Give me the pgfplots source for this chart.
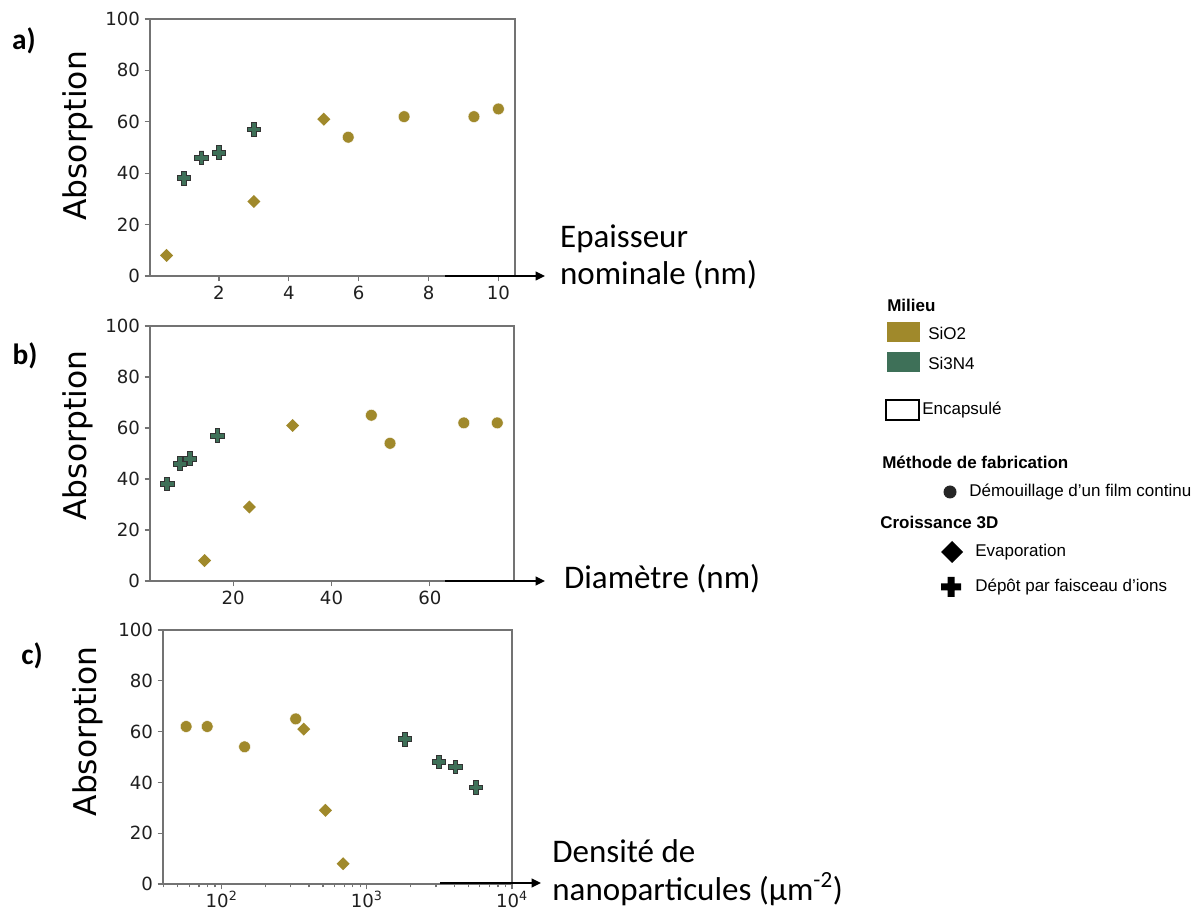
\documentclass[border=0pt]{standalone}
\usepackage{fontspec}
\setmainfont{DejaVu Sans}
\newfontfamily\carlito{Carlito}
\newfontfamily\arial{Liberation Sans}
\usepackage{pgfplots}
\pgfplotsset{compat=1.18}
\usetikzlibrary{arrows.meta}

\definecolor{sio}{RGB}{160,137,43}
\definecolor{sinf}{RGB}{62,112,88}
\definecolor{spine}{RGB}{115,115,115}

\pgfdeclareplotmark{fatplus}{%
  \pgfpathmoveto{\pgfqpoint{-0.35\pgfplotmarksize}{\pgfplotmarksize}}%
  \pgfpathlineto{\pgfqpoint{0.35\pgfplotmarksize}{\pgfplotmarksize}}%
  \pgfpathlineto{\pgfqpoint{0.35\pgfplotmarksize}{0.35\pgfplotmarksize}}%
  \pgfpathlineto{\pgfqpoint{\pgfplotmarksize}{0.35\pgfplotmarksize}}%
  \pgfpathlineto{\pgfqpoint{\pgfplotmarksize}{-0.35\pgfplotmarksize}}%
  \pgfpathlineto{\pgfqpoint{0.35\pgfplotmarksize}{-0.35\pgfplotmarksize}}%
  \pgfpathlineto{\pgfqpoint{0.35\pgfplotmarksize}{-\pgfplotmarksize}}%
  \pgfpathlineto{\pgfqpoint{-0.35\pgfplotmarksize}{-\pgfplotmarksize}}%
  \pgfpathlineto{\pgfqpoint{-0.35\pgfplotmarksize}{-0.35\pgfplotmarksize}}%
  \pgfpathlineto{\pgfqpoint{-\pgfplotmarksize}{-0.35\pgfplotmarksize}}%
  \pgfpathlineto{\pgfqpoint{-\pgfplotmarksize}{0.35\pgfplotmarksize}}%
  \pgfpathlineto{\pgfqpoint{-0.35\pgfplotmarksize}{0.35\pgfplotmarksize}}%
  \pgfpathclose
  \pgfusepathqfillstroke
}
\pgfdeclareplotmark{sqdiamond}{%
  \pgfpathmoveto{\pgfqpoint{0pt}{\pgfplotmarksize}}%
  \pgfpathlineto{\pgfqpoint{\pgfplotmarksize}{0pt}}%
  \pgfpathlineto{\pgfqpoint{0pt}{-\pgfplotmarksize}}%
  \pgfpathlineto{\pgfqpoint{-\pgfplotmarksize}{0pt}}%
  \pgfpathclose
  \pgfusepathqfill
}

\pgfplotsset{
  panel/.style={
    scale only axis, clip=false,
    ymin=0, ymax=100, ytick={0,20,40,60,80,100},
    axis line style={draw=spine, line width=1.1pt},
    every tick/.style={draw=spine, line width=0.9pt},
    tick align=outside, xtick pos=bottom, ytick pos=left,
    major tick length=4pt, minor tick length=2.5pt,
    ticklabel style={font=\fontsize{13.6}{15}\selectfont, text=black!88},
    /pgf/number format/assume math mode=true,
    ylabel={Absorption},
    xlabel style={font=\carlito\fontsize{24.75}{28}\selectfont, anchor=west, align=left, inner sep=0pt},
  },
  circ/.style={only marks, mark=*, mark size=4.4pt, mark options={fill=sio, draw=white, line width=0.3pt}},
  diam/.style={only marks, mark=sqdiamond, mark size=4.9pt, mark options={fill=sio}},
  plus/.style={only marks, mark=fatplus, mark size=5.1pt, mark options={fill=sinf, draw=black!80, line width=0.7pt}},
}

\begin{document}
\begin{tikzpicture}
\useasboundingbox (0,0) rectangle (902.25pt,683.25pt);

% ---------------- a) ----------------
\begin{axis}[panel,
  at={(112.5pt,476.25pt)}, anchor=south west,
  width=273.75pt, height=192.75pt,
  xmin=0.025, xmax=10.475, xtick={2,4,6,8,10},
  ylabel style={font=\fontsize{23.5}{26}\selectfont, at={(axis description cs:-0.197,0.545)}, anchor=center},
  xlabel={Epaisseur\\nominale (nm)},
  xlabel style={at={(axis description cs:1.123,0.074)}},
]
\addplot[plus] coordinates {(1,38) (1.5,46) (2,48) (3,57)};
\addplot[diam] coordinates {(0.5,8) (3,29) (5,61)};
\addplot[circ] coordinates {(5.7,54) (7.3,62) (9.3,62) (10,65)};
\end{axis}

% ---------------- b) ----------------
\begin{axis}[panel,
  at={(112.5pt,247.5pt)}, anchor=south west,
  width=273pt, height=191.25pt,
  xmin=3.1, xmax=77.1, xtick={20,40,60},
  ylabel style={font=\fontsize{23.5}{26}\selectfont, at={(axis description cs:-0.197,0.57)}, anchor=center},
  xlabel={Diamètre (nm)},
  xlabel style={at={(axis description cs:1.137,0.008)}},
]
\addplot[plus] coordinates {(6.6,38) (9.2,46) (11.2,48) (16.8,57)};
\addplot[diam] coordinates {(14.2,8) (23.3,29) (32.1,61)};
\addplot[circ] coordinates {(48.1,65) (51.9,54) (66.9,62) (73.7,62)};
\end{axis}

% ---------------- c) ----------------
\begin{axis}[panel,
  at={(122.25pt,20.25pt)}, anchor=south west,
  width=261.75pt, height=190.5pt,
  xmode=log, xmin=39.5, xmax=10000,
  xtick={100,1000,10000},
  xticklabels={{10\textsuperscript{2}},{10\textsuperscript{3}},{10\textsuperscript{4}}},
  xticklabel style={inner sep=1pt},
  minor xtick={40,50,60,70,80,90,200,300,400,500,600,700,800,900,2000,3000,4000,5000,6000,7000,8000,9000},
  ylabel style={font=\fontsize{23.5}{26}\selectfont, at={(axis description cs:-0.214,0.6)}, anchor=center},
  xlabel={Densité de\\nanoparticules (µm\textsuperscript{-2})},
  xlabel style={at={(axis description cs:1.115,0.045)}},
]
\addplot[circ] coordinates {(57,62) (79.6,62) (144,54) (324,65)};
\addplot[diam] coordinates {(368,61) (519,29) (687,8)};
\addplot[plus] coordinates {(1828,57) (3141,48) (4083,46) (5650,38)};
\end{axis}

% ------- annotations in image pixel coordinates -------
\begin{scope}[shift={(0pt,683.25pt)}, x=0.75pt, y=-0.75pt]
  % arrows
  \draw[line width=1.1pt, -{Triangle[length=7pt,width=6.5pt]}] (445,276) -- (545,276);
  \draw[line width=1.1pt, -{Triangle[length=7pt,width=6.5pt]}] (445,581) -- (545,581);
  \draw[line width=1.1pt, -{Triangle[length=7pt,width=6.5pt]}] (440,883) -- (541,883);
  % panel letters
  \node[font=\carlito\bfseries\fontsize{22}{26}\selectfont] at (24,41) {a)};
  \node[font=\carlito\bfseries\fontsize{22}{26}\selectfont] at (25,356) {b)};
  \node[font=\carlito\bfseries\fontsize{22}{26}\selectfont] at (32,656) {c)};
  % legend
  \begin{scope}[font=\arial\fontsize{12.75}{15}\selectfont]
    \node[anchor=west, inner sep=0pt, font=\arial\bfseries\fontsize{12.75}{15}\selectfont] at (887,305) {Milieu};
    \fill[sio] (887,322) rectangle (920,342);
    \node[anchor=west, inner sep=0pt] at (928,333) {SiO2};
    \fill[sinf] (887,352) rectangle (920,372);
    \node[anchor=west, inner sep=0pt] at (928,363) {Si3N4};
    \draw[line width=1.2pt] (886,400) rectangle (919,420);
    \node[anchor=west, inner sep=0pt] at (922,410) {Encapsulé};
    \node[anchor=west, inner sep=0pt, font=\arial\bfseries\fontsize{12.75}{15}\selectfont] at (882,462) {Méthode de fabrication};
    \fill[black!85] (950,492) circle[radius=6.5];
    \node[anchor=west, inner sep=0pt] at (969,492) {Démouillage d’un film continu};
    \node[anchor=west, inner sep=0pt, font=\arial\bfseries\fontsize{12.75}{15}\selectfont] at (880,522) {Croissance 3D};
    \fill[black] (952,541) -- (963,552) -- (952,563) -- (941,552) -- cycle;
    \node[anchor=west, inner sep=0pt] at (975,552) {Evaporation};
    \fill[black] (947.5,577) -- (954.5,577) -- (954.5,583.5) -- (961,583.5) -- (961,590.5) -- (954.5,590.5) -- (954.5,597) -- (947.5,597) -- (947.5,590.5) -- (941,590.5) -- (941,583.5) -- (947.5,583.5) -- cycle;
    \node[anchor=west, inner sep=0pt] at (975,587) {Dépôt par faisceau d’ions};
  \end{scope}
\end{scope}
\end{tikzpicture}
\end{document}
